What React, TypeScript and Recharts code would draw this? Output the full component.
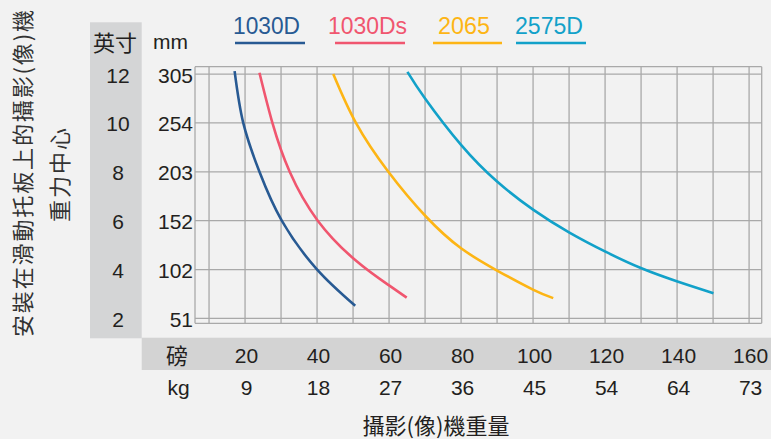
import React from "react";
import { LineChart, Line, XAxis, YAxis, CartesianGrid } from "recharts";

// camera weight (lb) / centre of gravity height (in)
const LB_1030D = [17.1, 19.5, 24.0, 30.2, 39.9, 50.6];
const IN_1030D = [12.12, 10.0, 8.0, 6.0, 4.02, 2.52];

const LB_1030DS = [24.0, 27.6, 32.4, 40.2, 50.6, 59.8, 64.9];
const IN_1030DS = [12.05, 10.0, 8.0, 6.0, 4.39, 3.37, 2.85];

const LB_2065 = [44.5, 50.8, 59.8, 70.3, 80.0, 90.0, 100.1, 105.6];
const IN_2065 = [12.0, 10.0, 8.0, 6.16, 4.87, 3.96, 3.17, 2.83];

const LB_2575D = [65.1, 70.0, 80.0, 90.0, 100.1, 110.1, 120.1, 130.1, 140.1, 150.1];
const IN_2575D = [12.09, 11.0, 9.1, 7.6, 6.44, 5.51, 4.73, 4.05, 3.51, 3.03];

const SERIES_NAMES = ["1030D", "1030Ds", "2065", "2575D"];
const SERIES_COLORS = ["#285a93", "#f0566f", "#fdb515", "#12a1c9"];

const LB_TICKS = [10, 20, 30, 40, 50, 60, 70, 80, 90, 100, 110, 120, 130, 140, 150, 160];
const LB_LABELS = [20, 40, 60, 80, 100, 120, 140, 160];
const KG_LABELS = [9, 18, 27, 36, 45, 54, 64, 73];

const INCH_TICKS = [2, 4, 6, 8, 10, 12];
const MM_LABELS = [51, 102, 152, 203, 254, 305];

const toPoints = (lb: number[], inch: number[]) => lb.map((v, i) => ({ lb: v, inch: inch[i] }));

const SERIES_DATA = [
  toPoints(LB_1030D, IN_1030D),
  toPoints(LB_1030DS, IN_1030DS),
  toPoints(LB_2065, IN_2065),
  toPoints(LB_2575D, IN_2575D),
];

const TEXT = "#231f20";
const LATIN = "'Liberation Sans', Arial, sans-serif";
const CJK = "'Noto Sans CJK TC', 'Noto Sans CJK SC', sans-serif";

// legend layout (text start, underline start/end)
const LEGEND_X = [233, 328, 438, 515];
const LEGEND_W = [67, 79, 52, 68];
const LEGEND_LINE = [[235, 305], [335, 405], [433, 502], [516, 586]];

function XTick(props: any) {
  const { x, payload } = props;
  const idx = LB_LABELS.indexOf(payload.value);
  if (idx < 0) return <g />;
  return (
    <g>
      <text x={x + 1.5} y={355} textAnchor="middle" dominantBaseline="central"
        fontSize={21} fontFamily={LATIN} fill={TEXT}>{payload.value}</text>
      <text x={x + 1.5} y={387} textAnchor="middle" dominantBaseline="central"
        fontSize={21} fontFamily={LATIN} fill={TEXT}>{KG_LABELS[idx]}</text>
    </g>
  );
}

function YTick(props: any) {
  const { y, payload } = props;
  const idx = INCH_TICKS.indexOf(payload.value);
  return (
    <g>
      <text x={118} y={y + 1} textAnchor="middle" dominantBaseline="central"
        fontSize={21} fontFamily={LATIN} fill={TEXT}>{payload.value}</text>
      <text x={193} y={y + 1} textAnchor="end" dominantBaseline="central"
        fontSize={21} fontFamily={LATIN} fill={TEXT}>{MM_LABELS[idx]}</text>
    </g>
  );
}

export default function App() {
  return (
    <div style={{ position: "fixed", left: 0, top: 0, width: 771, height: 439, background: "#f2f2f2", overflow: "hidden" }}>
      <svg width={771} height={439} style={{ position: "absolute", left: 0, top: 0 }}>
        {/* grey bands */}
        <rect x={90} y={22.3} width={51.7} height={316} fill="#d4d5d6" />
        <rect x={141.7} y={337.7} width={630} height={32.3} fill="#d3d3d3" />

        {/* left title */}
        <text transform="translate(21,173.5) rotate(-90)" textAnchor="middle" dominantBaseline="central"
          fontSize={22} fontFamily={CJK} fill="#333" textLength={327} lengthAdjust="spacing">
          安裝在滑動托板上的攝影(像)機
        </text>
        <text transform="translate(58,175) rotate(-90)" textAnchor="middle" dominantBaseline="central"
          fontSize={22} fontFamily={CJK} fill="#333" textLength={94} lengthAdjust="spacing">
          重力中心
        </text>

        {/* column headers */}
        <text x={115} y={41} textAnchor="middle" dominantBaseline="central" fontSize={22} fontFamily={CJK} fill={TEXT}>英寸</text>
        <text x={170.5} y={41} textAnchor="middle" dominantBaseline="central" fontSize={21} fontFamily={LATIN} fill={TEXT}>mm</text>
        <text x={177} y={354} textAnchor="middle" dominantBaseline="central" fontSize={22} fontFamily={CJK} fill={TEXT}>磅</text>
        <text x={178.5} y={387} textAnchor="middle" dominantBaseline="central" fontSize={21} fontFamily={LATIN} fill={TEXT}>kg</text>

        {/* x title */}
        <text x={436} y={424} textAnchor="middle" dominantBaseline="central" fontSize={22} fontFamily={CJK} fill={TEXT}>攝影(像)機重量</text>

        {/* legend */}
        {SERIES_NAMES.map((name, i) => (
          <g key={name}>
            <text x={LEGEND_X[i]} y={33.5} fontSize={24} fontFamily={LATIN} fill={SERIES_COLORS[i]}
              textLength={LEGEND_W[i]} lengthAdjust="spacingAndGlyphs">{name}</text>
            <line x1={LEGEND_LINE[i][0]} x2={LEGEND_LINE[i][1]} y1={43} y2={43} stroke={SERIES_COLORS[i]} strokeWidth={2.7} />
          </g>
        ))}
      </svg>

      <div style={{ position: "absolute", left: 0, top: 0 }}>
        <LineChart width={771} height={439} margin={{ top: 66.7, right: 9.3, bottom: 55.7, left: 95 }}>
          <CartesianGrid stroke="#a9a9a9" strokeWidth={1.3} />
          <XAxis
            type="number"
            dataKey="lb"
            domain={[6.1, 163.5]}
            ticks={LB_TICKS}
            interval={0}
            allowDataOverflow
            axisLine={false}
            tickLine={false}
            height={60}
            tick={(p: any) => <XTick {...p} />}
          />
          <YAxis
            type="number"
            dataKey="inch"
            domain={[1.8, 12.3]}
            ticks={INCH_TICKS}
            interval={0}
            allowDataOverflow
            axisLine={false}
            tickLine={false}
            width={100}
            tick={(p: any) => <YTick {...p} />}
          />
          {SERIES_DATA.map((d, i) => (
            <Line
              key={SERIES_NAMES[i]}
              data={d}
              dataKey="inch"
              type="natural"
              stroke={SERIES_COLORS[i]}
              strokeWidth={2.6}
              dot={false}
              activeDot={false}
              isAnimationActive={false}
            />
          ))}
        </LineChart>
      </div>
    </div>
  );
}
